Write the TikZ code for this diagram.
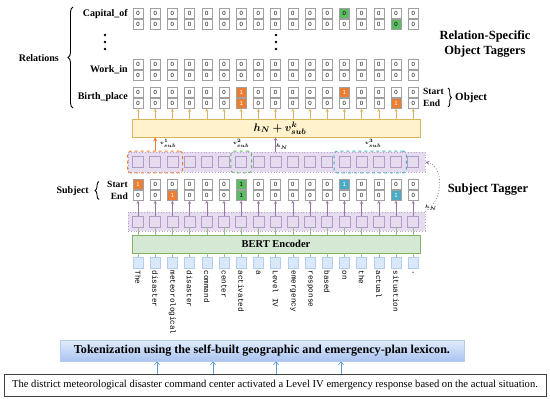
\documentclass[tikz,border=0pt]{standalone}
\usepackage{fontspec}
\setmainfont{Liberation Serif}
\newfontfamily\tokfont{Liberation Mono}
\newfontfamily\cellfont{Liberation Sans}
\usepackage{bm}
\usetikzlibrary{arrows.meta,decorations.pathreplacing,fit}
\definecolor{orangeC}{HTML}{ED7D31}
\definecolor{greenC}{HTML}{5DBB63}
\definecolor{cyanC}{HTML}{4BACC6}
\definecolor{purFill}{HTML}{E6DCEF}
\definecolor{purDraw}{HTML}{9673A6}
\definecolor{purCell}{HTML}{B49AC6}
\definecolor{purRow}{HTML}{B9A2CC}
\definecolor{yelFill}{HTML}{FFF2CC}
\definecolor{yelDraw}{HTML}{D6B656}
\definecolor{bertFill}{HTML}{D5E8D4}
\definecolor{bertDraw}{HTML}{82B366}
\definecolor{tokFill}{HTML}{DAE8FC}
\definecolor{tokDraw}{HTML}{B4CDEF}
\definecolor{blueArr}{HTML}{5B9BD5}
\definecolor{cellDraw}{HTML}{A0A0A0}
\begin{document}
\begin{tikzpicture}[x=1pt,y=-1pt,
  tagcell/.style={rectangle,draw=cellDraw,line width=0.6pt,minimum width=10pt,minimum height=10.5pt,inner sep=0pt,font=\cellfont\fontsize{6}{6}\selectfont},
  purcell/.style={rectangle,draw=purCell,fill=purFill,line width=0.6pt,minimum width=11pt,minimum height=11pt,inner sep=0pt},
  purrow/.style={rectangle,draw=purRow,fill=purFill,dotted,line width=0.8pt,minimum width=297pt,inner sep=0pt},
  tokcell/.style={rectangle,draw=tokDraw,fill=tokFill,line width=0.4pt,minimum width=10pt,minimum height=11pt,inner sep=0pt},
  toktext/.style={font=\tokfont\fontsize{7.6}{8}\selectfont,text=black,inner sep=0pt,rotate=-90,anchor=west},
  lbl/.style={font=\bfseries\fontsize{10}{12}\selectfont,inner sep=0pt},
  big/.style={font=\bfseries\fontsize{12.5}{15}\selectfont,inner sep=0pt,align=center},
  small/.style={font=\fontsize{5.5}{6}\selectfont,inner sep=0pt},
  yarr/.style={draw=yelDraw,line width=0.6pt,-{Stealth[length=3pt,width=3pt]}},
  parr/.style={draw=purDraw,line width=0.6pt,-{Stealth[length=3pt,width=3pt]}},
  gline/.style={draw=bertDraw!80,line width=0.6pt},
  barr/.style={draw=blueArr,line width=0.7pt,-{Straight Barb[length=3pt,width=5pt]}},
  dashbox/.style={rounded corners=3pt,dashed,line width=1pt,inner xsep=4.5pt,inner ysep=5pt}
]
\useasboundingbox (0,0) rectangle (550,399);

% ---------- relation rows ----------
\foreach \k in {0,...,16}{
  \pgfmathsetmacro\xc{138+17.2*\k}
  % Capital_of
  \def\ft{white}\def\fb{white}
  \ifnum\k=12 \def\ft{greenC}\fi
  \ifnum\k=15 \def\fb{greenC}\fi
  \node[tagcell,fill=\ft] (cap-t-\k) at (\xc,13.25) {0};
  \node[tagcell,fill=\fb] (cap-b-\k) at (\xc,24.25) {0};
  % Work_in
  \node[tagcell,fill=white] (wk-t-\k) at (\xc,64.5) {0};
  \node[tagcell,fill=white] (wk-b-\k) at (\xc,75.5) {0};
  % Birth_place
  \def\ft{white}\def\vt{0}\def\ct{black}
  \def\fb{white}\def\vb{0}\def\cb{black}
  \ifnum\k=6 \def\ft{orangeC}\def\vt{1}\def\ct{white}\def\fb{orangeC}\def\vb{1}\def\cb{white}\fi
  \ifnum\k=12 \def\ft{orangeC}\def\vt{1}\def\ct{white}\fi
  \ifnum\k=15 \def\fb{orangeC}\def\vb{1}\def\cb{white}\fi
  \node[tagcell,fill=\ft,text=\ct] (bp-t-\k) at (\xc,92.25) {\vt};
  \node[tagcell,fill=\fb,text=\cb] (bp-b-\k) at (\xc,103.25) {\vb};
}

% dots
\foreach \yy in {35,42,49}{
  \fill (105,\yy) circle (1.3pt);
  \fill (276,\yy) circle (1.3pt);
}

% row labels
\node[lbl,anchor=east] (lcap) at (128,14) {Capital\_of};
\node[lbl,anchor=east] (lwk) at (128,70) {Work\_in};
\node[lbl,anchor=east] (lbp) at (128,97.5) {Birth\_place};
\node[lbl,anchor=east] (lrel) at (59,58) {Relations};
\draw[decorate,decoration={brace,amplitude=5pt},line width=0.9pt] (73,108) -- (73,7);

\node[big] (rsot) at (485,44) {Relation-Specific\\Object Taggers};

% Start / End / Object
\node[lbl,anchor=west,font=\bfseries\fontsize{9.5}{11}\selectfont] (ostart) at (423,91) {Start};
\node[lbl,anchor=west,font=\bfseries\fontsize{9.5}{11}\selectfont] (oend) at (423,103) {End};
\draw[decorate,decoration={brace,amplitude=3.5pt},line width=0.9pt] (448,88) -- (448,107);
\node[lbl,anchor=west,font=\bfseries\fontsize{11}{13}\selectfont] (oobj) at (455,97.5) {Object};

% ---------- yellow box ----------
\node[rectangle,draw=yelDraw,fill=yelFill,line width=0.6pt,minimum width=288pt,minimum height=18pt,inner sep=0pt,font=\fontsize{11}{12}\selectfont] (yb) at (276,128) {\hspace*{8pt}$\bm{h_N + v^{k}_{sub}}$};

\foreach \k in {0,...,16}{
  \draw[yarr] (yb.north -| bp-b-\k.south) -- (bp-b-\k.south);
}

% ---------- upper purple row ----------
\node[purrow,minimum height=20pt] (uprow) at (276.5,162) {};
\foreach \k in {0,...,16}{
  \pgfmathsetmacro\xc{138+17.2*\k}
  \node[purcell] (up-\k) at (\xc,162) {};
}
\node[dashbox,draw=orangeC,fit=(up-0)(up-2)] (obox) {};
\node[dashbox,draw=greenC,fit=(up-6)] (gbox) {};
\node[dashbox,draw=cyanC,fit=(up-12)(up-15)] (cbox) {};

\draw[draw=orangeC,line width=0.9pt,-{Stealth[length=4pt,width=4pt]}] (obox.north) -- (yb.south -| obox.north);
\node[small] (v1) at (168,143) {$\bm{v^{1}_{sub}}$};
\node[small] (v2) at (241,143) {$\bm{v^{2}_{sub}}$};
\node[small] (v3) at (373,143) {$\bm{v^{3}_{sub}}$};
\draw[draw=purDraw,line width=0.8pt,-{Stealth[length=3.5pt,width=3.5pt]}] (uprow.north -| up-8) -- (yb.south -| up-8);
\node[small] (hn1) at (282,147) {$\bm{h_N}$};

% ---------- subject tagger ----------
\foreach \k in {0,...,16}{
  \pgfmathsetmacro\xc{138+17.2*\k}
  \def\ft{white}\def\ct{black}
  \def\fb{white}\def\cb{black}
  \def\vt{0}\def\vb{0}
  \ifnum\k=0 \def\ft{orangeC}\def\vt{1}\def\ct{white}\fi
  \ifnum\k=2 \def\fb{orangeC}\def\vb{1}\def\cb{white}\fi
  \ifnum\k=6 \def\ft{greenC}\def\vt{1}\def\fb{greenC}\def\vb{1}\fi
  \ifnum\k=12 \def\ft{cyanC}\def\vt{1}\def\ct{white}\fi
  \ifnum\k=15 \def\fb{cyanC}\def\vb{1}\def\cb{white}\fi
  \node[tagcell,fill=\ft,text=\ct] (st-t-\k) at (\xc,184.25) {\vt};
  \node[tagcell,fill=\fb,text=\cb] (st-b-\k) at (\xc,195.25) {\vb};
}
\node[lbl,anchor=east] (lsub) at (89,191) {Subject};
\draw[decorate,decoration={brace,amplitude=4pt},line width=0.9pt] (99,199.5) -- (99,181.5);
\node[lbl,anchor=east,font=\bfseries\fontsize{9.5}{11}\selectfont] (lst) at (128,184.5) {Start};
\node[lbl,anchor=east,font=\bfseries\fontsize{9.5}{11}\selectfont] (len) at (128,196) {End};
\node[big] (stag) at (488,190) {Subject Tagger};

% ---------- lower purple row ----------
\node[purrow,minimum height=19pt] (lprow) at (276.5,221.5) {};
\foreach \k in {0,...,16}{
  \pgfmathsetmacro\xc{138+17.2*\k}
  \node[purcell] (lp-\k) at (\xc,221.5) {};
  \draw[parr] (lp-\k.north) -- (st-b-\k.south);
}
\draw[draw=purDraw,dotted,line width=0.8pt,-{Stealth[length=4pt,width=4pt]}] (lprow.north east) .. controls (444,200) and (444,166) .. (uprow.east);
\node[small] (hn2) at (431,208) {$\bm{h_N}$};

% ---------- BERT ----------
\node[rectangle,draw=bertDraw,fill=bertFill,line width=0.6pt,minimum width=288pt,minimum height=18pt,inner sep=0pt,font=\bfseries\fontsize{10.5}{12}\selectfont] (bert) at (276,244) {BERT Encoder};
\foreach \k in {0,...,16}{
  \draw[gline] (bert.north -| lp-\k) -- (lp-\k.south);
}

% ---------- tokens ----------
\foreach \k/\w in {0/The,1/disaster,2/meteorological,3/disaster,4/command,5/center,6/activated,7/a,8/Level IV,9/emergency,10/response,11/based,12/on,13/the,14/actual,15/situation,16/.}{
  \pgfmathsetmacro\xc{138+17.2*\k}
  \node[tokcell] (tok-\k) at (\xc,262.5) {};
  \draw[gline] (tok-\k.north) -- (bert.south -| tok-\k);
  \node[toktext] (tt-\k) at (\xc,270.5) {\w};
}

% ---------- tokenization ----------
\node[rectangle,draw=tokDraw,top color=tokFill!80,bottom color=tokDraw!95!blue,line width=0.5pt,minimum width=404pt,minimum height=21pt,inner sep=0pt,font=\bfseries\fontsize{12.1}{14}\selectfont] (tkz) at (262,350.5) {Tokenization using the self-built geographic and emergency-plan lexicon.};

\node[rectangle,draw=black!75,line width=0.9pt,minimum width=542pt,minimum height=22pt,inner sep=0pt,font=\fontsize{10.6}{12}\selectfont] (sent) at (275,385) {The district meteorological disaster command center activated a Level IV emergency response based on the actual situation.};

\foreach \xx in {157,213,276,341}{
  \draw[barr] (\xx,0 |- sent.north) -- (\xx,0 |- tkz.south);
}
\end{tikzpicture}
\end{document}
